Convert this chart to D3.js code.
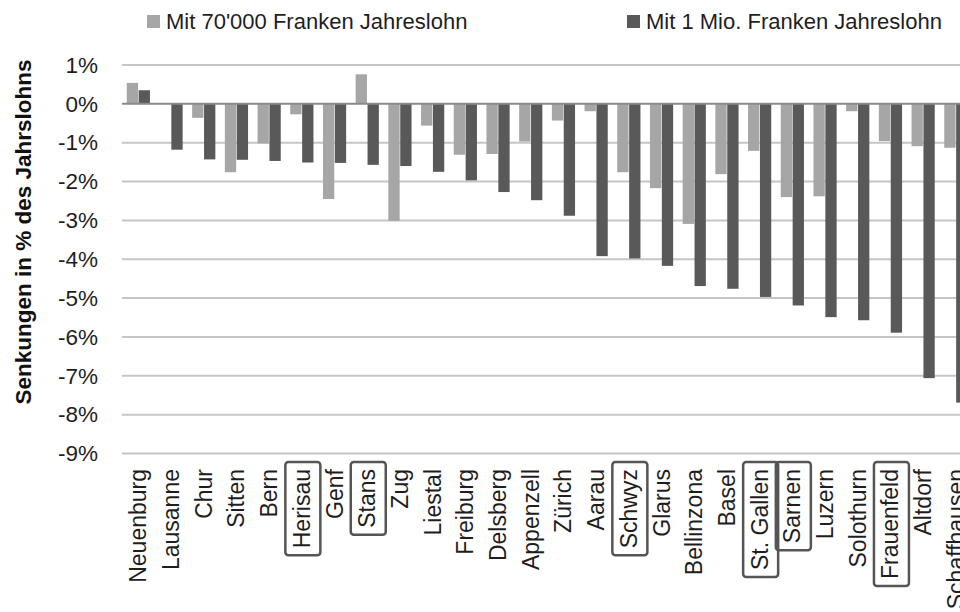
<!DOCTYPE html>
<html>
<head>
<meta charset="utf-8">
<script src="https://cdn.jsdelivr.net/npm/d3@7"></script>
<style>
  html, body { margin: 0; padding: 0; background: #fff; }
  svg { display: block; font-family: "Liberation Sans", Arial, Helvetica, sans-serif; }
</style>
</head>
<body>
<svg id="chart" width="960" height="612"></svg>
<script>
// ---- Data ----
const cities = ["Neuenburg","Lausanne","Chur","Sitten","Bern","Herisau","Genf","Stans","Zug","Liestal",
  "Freiburg","Delsberg","Appenzell","Zürich","Aarau","Schwyz","Glarus","Bellinzona","Basel","St. Gallen",
  "Sarnen","Luzern","Solothurn","Frauenfeld","Altdorf","Schaffhausen"];
const lowIncome = [0.54, 0.0, -0.36, -1.76, -1.02, -0.27, -2.45, 0.76, -3.01, -0.56,
  -1.31, -1.29, -0.97, -0.43, -0.19, -1.76, -2.17, -3.09, -1.81, -1.21,
  -2.40, -2.38, -0.19, -0.96, -1.09, -1.13];
const highIncome = [0.35, -1.18, -1.43, -1.44, -1.47, -1.51, -1.52, -1.57, -1.60, -1.75,
  -1.97, -2.27, -2.48, -2.88, -3.92, -3.98, -4.17, -4.69, -4.76, -4.97,
  -5.19, -5.49, -5.57, -5.89, -7.06, -7.69];
const boxedCities = ["Herisau","Stans","Schwyz","St. Gallen","Sarnen","Frauenfeld"];
const seriesNames = ["Mit 70'000 Franken Jahreslohn", "Mit 1 Mio. Franken Jahreslohn"];
const yTicks = [1, 0, -1, -2, -3, -4, -5, -6, -7, -8, -9];
const yTitle = "Senkungen in % des Jahrslohns";

// ---- Layout ----
const svg = d3.select("#chart");
const colors = ["#a6a6a6", "#595959"];
const textColor = "#1e1e1e";
const plotLeft = 122, step = 32.7;
const x = d3.scaleBand().domain(cities).range([plotLeft, plotLeft + step * cities.length]).padding(0);
const xSub = d3.scaleBand().domain([0, 1]).range([0, x.bandwidth()]).paddingInner(0.05).paddingOuter(0.4);
const y = d3.scaleLinear().domain([1, -9]).range([65, 453.5]);

// gridlines
svg.append("g").selectAll("line").data(yTicks.filter(d => d !== 0)).join("line")
  .attr("x1", plotLeft).attr("x2", 960)
  .attr("y1", d => y(d)).attr("y2", d => y(d))
  .attr("stroke", "#c6c6c6").attr("stroke-width", 2);

// y axis labels
const yAxis = d3.axisLeft(y).tickValues(yTicks).tickSize(0).tickPadding(0)
  .tickFormat(d => d + "%");
const yg = svg.append("g").attr("transform", "translate(98,0)").call(yAxis);
yg.select(".domain").remove();
yg.selectAll("text").attr("font-size", 22.5).attr("fill", textColor)
  .attr("font-family", "'Liberation Sans', Arial, sans-serif");

// bars
[lowIncome, highIncome].forEach((vals, si) => {
  svg.append("g").selectAll("rect").data(cities).join("rect")
    .attr("x", (c) => x(c) + xSub(si))
    .attr("width", xSub.bandwidth())
    .attr("y", (c, i) => y(Math.max(0, vals[i])))
    .attr("height", (c, i) => Math.abs(y(vals[i]) - y(0)))
    .attr("fill", colors[si]);
});

// zero line
svg.append("line").attr("x1", plotLeft).attr("x2", 960)
  .attr("y1", y(0)).attr("y2", y(0))
  .attr("stroke", "#8a8a8a").attr("stroke-width", 2);

// x labels
const labelTop = 469;
const lg = svg.append("g");
cities.forEach(c => {
  const cx = x(c) + x.bandwidth() / 2;
  const g = lg.append("g").attr("transform", `translate(${cx},${labelTop}) rotate(-90)`);
  const t = g.append("text").attr("x", 0).attr("y", 8)
    .attr("text-anchor", "end").attr("font-size", 23).attr("fill", textColor).text(c);
  if (boxedCities.includes(c)) {
    const len = t.node().getComputedTextLength();
    g.insert("rect", "text")
      .attr("x", -len - 7).attr("width", len + 14)
      .attr("y", -16.5).attr("height", 35)
      .attr("rx", 3).attr("ry", 3)
      .attr("fill", "none").attr("stroke", "#555").attr("stroke-width", 2.5);
  }
});

// y title
svg.append("text")
  .attr("transform", "translate(31,232) rotate(-90)")
  .attr("text-anchor", "middle").attr("font-size", 22.5).attr("font-weight", "bold")
  .attr("fill", "#111").text(yTitle);

// legend
const legendX = [147, 627];
seriesNames.forEach((name, i) => {
  const gI = svg.append("g").attr("transform", `translate(${legendX[i]},0)`);
  gI.append("rect").attr("x", 0).attr("y", 15).attr("width", 13).attr("height", 13).attr("fill", colors[i]);
  gI.append("text").attr("x", 19).attr("y", 29).attr("font-size", 22).attr("fill", textColor).text(name);
});
</script>
</body>
</html>
